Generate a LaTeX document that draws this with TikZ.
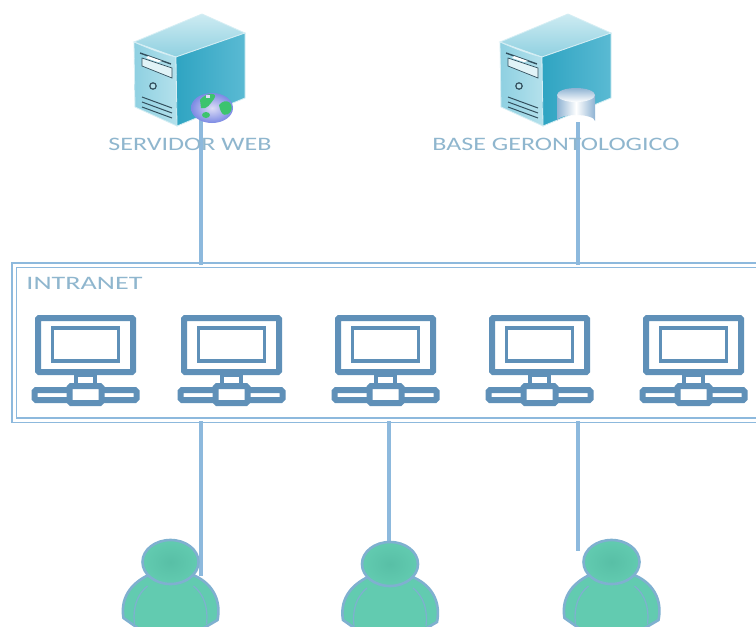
\documentclass[tikz,border=0pt]{standalone}
\usepackage{fontspec}
\setmainfont{Carlito}
\definecolor{wire}{HTML}{8DB9DD}
\definecolor{pcblue}{HTML}{5F90B8}
\definecolor{labelblue}{HTML}{8FB6CE}
\definecolor{persona}{HTML}{62CBB0}
\definecolor{personcore}{HTML}{58BFA6}
\definecolor{personline}{HTML}{7FB0D0}
\definecolor{srvdark}{HTML}{33505E}
\definecolor{srvedge}{HTML}{D5EEF4}
\definecolor{srvtopa}{HTML}{CDEBF2}
\definecolor{srvtopb}{HTML}{8FD0E0}
\definecolor{srvfronta}{HTML}{8ED0E1}
\definecolor{srvfrontb}{HTML}{B4E1EC}
\definecolor{srvsidea}{HTML}{2FA4C2}
\definecolor{srvsideb}{HTML}{5ABAD3}
\definecolor{dbblue}{HTML}{8FB3D3}
\definecolor{globein}{HTML}{DDDDF6}
\definecolor{globeout}{HTML}{7C8AE4}
\definecolor{globegreen}{HTML}{3CC46E}
\tikzset{
  x=1pt,y=-1pt,
  wireline/.style={draw=wire,line width=3.2pt},
  labeltext/.style={text=labelblue,font=\fontsize{19}{22}\selectfont,inner sep=0pt,xscale=1.37},
  serverpic/.pic={
    \path[draw=srvedge,line width=.8pt,top color=srvtopa,bottom color=srvtopb]
      (0,0) -- (-68,28) -- (-26,43) -- (43,19) -- cycle;
    \path[draw=srvedge,line width=.8pt,left color=srvfronta,right color=srvfrontb]
      (-68,28) .. controls (-50,36) and (-38,40) .. (-26,43) -- (-25,112) -- (-67,93) -- cycle;
    \path[draw=srvedge,line width=.8pt,left color=srvsidea,right color=srvsideb]
      (-26,43) -- (43,19) -- (43,84) -- (-25,112) -- cycle;
    \draw[srvdark,line width=1.4pt] (-62,39) -- (-31,50);
    \fill[srvfrontb!40!white,draw=srvdark,line width=.7pt] (-60,44) -- (-30,54) -- (-30,64) -- (-60,52) -- cycle;
    \fill[white] (-54,42) -- (-40,47) -- (-44,48) -- (-56,44) -- cycle;
    \draw[srvdark,line width=1.2pt,fill=srvfrontb] (-49,72) circle[radius=3.2];
    \foreach \d in {0,5,10}
      \draw[srvdark,line width=1pt] (-60,83+\d) -- (-30,94+\d);
  },
  pcpic/.pic={
    \draw[pcblue,line width=6pt,rounded corners=1pt,fill=white] (-47.5,-30) rectangle (47.5,24);
    \draw[pcblue,line width=3.4pt,fill=white] (-33,-20) rectangle (33,13);
    \draw[pcblue,line width=4pt,fill=white] (-9.5,27) rectangle (9.5,38);
    \draw[pcblue,line width=6pt,rounded corners=1.5pt,fill=white] (-51,42) rectangle (51,52);
    \draw[pcblue,line width=6pt,rounded corners=1.5pt,fill=white] (-16,38) rectangle (16,55);
  },
  personpic/.pic={
    \path[draw=personline,line width=2.6pt,fill=persona]
      (-47,56) .. controls (-50,38) and (-42,22) .. (-20,12)
      -- (20,12) .. controls (42,20) and (51,38) .. (47,58) -- (30,68) -- (-30,68) -- cycle;
    \draw[personline,line width=1.2pt] (-36,62) .. controls (-38,45) and (-33,32) .. (-23,24);
    \draw[personline,line width=1.2pt] (36,62) .. controls (38,45) and (33,32) .. (23,24);
    \path[draw=personline,line width=2.6pt,inner color=personcore,outer color=persona]
      (0,0) ellipse[x radius=28,y radius=22];
  },
}
\begin{document}
\begin{tikzpicture}
\clip (0,0) rectangle (756,627);
\fill[white] (0,0) rectangle (756,627);

% anchors
\coordinate (srvweb) at (201,118);
\coordinate (srvbase) at (578,122);
\coordinate (user1) at (201,576);
\coordinate (user2) at (389,541);
\coordinate (user3) at (578,551);

% intranet frame
\node[name=intranet,draw=wire,double=white,double distance=2.4pt,line width=1.7pt,fill=white,
      minimum width=900pt,minimum height=155pt,inner sep=0pt,anchor=north west] at (13.5,264.5) {};

% connectors
\draw[wireline] (srvweb) -- (srvweb |- intranet.north);
\draw[wireline] (srvbase) -- (srvbase |- intranet.north);
\draw[wireline] (user1 |- intranet.south) -- (user1);
\draw[wireline] (user2 |- intranet.south) -- (user2);
\draw[wireline] (user3 |- intranet.south) -- (user3);

% servers
\pic at (202,14) {serverpic};
\pic at (568,14) {serverpic};

% globe
\path[inner color=globein,outer color=globeout] (212,108) ellipse[x radius=21,y radius=15];
\begin{scope}
\clip (212,108) ellipse[x radius=21,y radius=15];
\fill[globegreen] (200,100) .. controls (206,92) and (219,92) .. (214,99) .. controls (210,104) and (207,110) .. (201,108) -- cycle;
\fill[globegreen] (219,105) .. controls (226,97) and (234,103) .. (231,111) .. controls (227,117) and (221,117) .. (219,105) -- cycle;
\fill[globein] (206,95) rectangle (210,98);
\fill[globegreen] (206,115) ellipse[x radius=4,y radius=3];
\end{scope}

% database
\path[left color=dbblue,right color=dbblue,middle color=white]
  (557,95) -- (595,95) -- (595,121) arc[start angle=0,end angle=180,x radius=19,y radius=-6] -- cycle;
\shade[top color=dbblue,bottom color=white] (576,95) ellipse[x radius=19,y radius=7];

% labels
\node[labeltext] (lblweb) at (190,144) {SERVIDOR WEB};
\node[labeltext] (lblbase) at (556,144) {BASE GERONTOLOGICO};
\node[labeltext,xscale=1.08] (lblnet) at (84.5,283) {INTRANET};

% computers
\pic at (85.5,348) {pcpic};
\pic at (231.5,348) {pcpic};
\pic at (385.5,348) {pcpic};
\pic at (539.5,348) {pcpic};
\pic at (693.5,348) {pcpic};

% people
\pic at (170.5,562) {personpic};
\pic at (390,564) {personpic};
\pic at (611.5,562) {personpic};
\end{tikzpicture}
\end{document}
